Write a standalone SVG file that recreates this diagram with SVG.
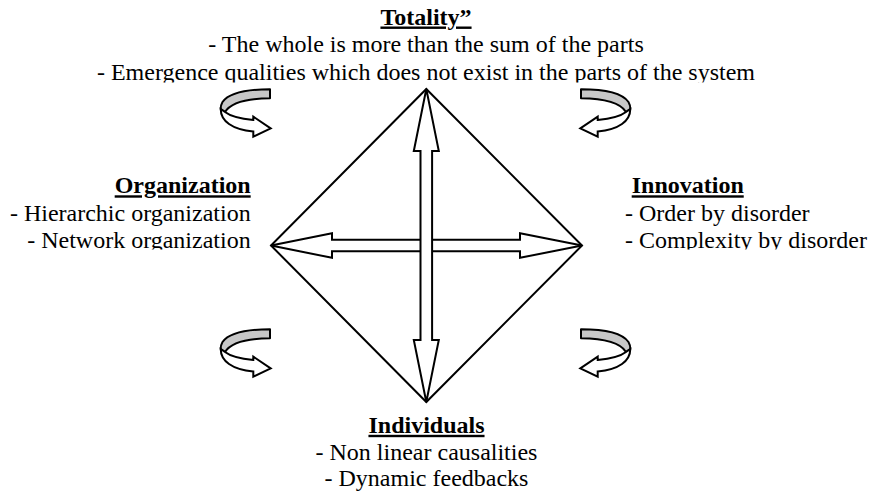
<svg xmlns="http://www.w3.org/2000/svg" xmlns:xlink="http://www.w3.org/1999/xlink" width="871" height="491" viewBox="0 0 871 491">
<style>
  .t { font-family: "Liberation Serif", "Times New Roman", serif; font-size: 24px; fill: #000; }
  .h { font-weight: bold; text-decoration: underline; }
  .ln { fill: none; stroke: #000; stroke-width: 2; stroke-linejoin: miter; }
  .blk { fill: #fff; stroke: #000; stroke-width: 2; stroke-linejoin: miter; }
  .back { fill: #c8c8c8; stroke: #000; stroke-width: 2; stroke-linejoin: round; }
  .front { fill: #fff; stroke: #000; stroke-width: 2; stroke-linejoin: miter; }
</style>
<defs>
  <g id="curl">
    <path class="back" d="M70,9.3 C48,9.3 29,13 22.5,22 C21,24.5 20.7,27 20.7,29 L25,32 C30,24 45,18.5 70,18.3 Z"/>
    <path class="front" d="M20.7,29 C20.7,41 32,49.5 53.3,51.5 L53.3,56.7 L70.7,48.3 L53.3,36.7 L53.3,40 C38,38.5 29.5,35.5 25,32 Z"/>
  </g>
  <clipPath id="clipTop"><rect x="0" y="0" width="871" height="82.5"/></clipPath>
  <clipPath id="clipSide"><rect x="0" y="150" width="871" height="99.5"/></clipPath>
</defs>
<rect width="871" height="491" fill="#fff"/>

<g id="diamond">
  <polygon class="ln" points="426.3,89 582,245.5 426.3,402 271,245.5"/>
</g>

<g id="connectors">
  <polygon class="blk" points="271,245.5 332,233.2 332,239.7 520,239.7 520,233.2 582,245.5 520,257.8 520,251.3 332,251.3 332,257.8"/>
  <polygon class="blk" points="426.3,89 438.8,151 432.1,151 432.1,340 438.8,340 426.3,402 413.8,340 420.5,340 420.5,151 413.8,151"/>
</g>

<g id="cycles">
  <use xlink:href="#curl" transform="translate(200,80)"/>
  <use xlink:href="#curl" transform="translate(200,320)"/>
  <use xlink:href="#curl" transform="translate(651,80) scale(-1,1)"/>
  <use xlink:href="#curl" transform="translate(651,320) scale(-1,1)"/>
</g>

<g id="totality" clip-path="url(#clipTop)">
  <text class="t h" x="426" y="24.5" text-anchor="middle">Totality”</text>
  <text class="t" x="426" y="52" text-anchor="middle">- The whole is more than the sum of the parts</text>
  <text class="t" x="426" y="79.6" text-anchor="middle">- Emergence qualities which does not exist in the parts of the system</text>
</g>

<g id="organization" clip-path="url(#clipSide)">
  <text class="t h" x="250.7" y="193.3" text-anchor="end">Organization</text>
  <text class="t" x="250.7" y="220.8" text-anchor="end">- Hierarchic organization</text>
  <text class="t" x="250.7" y="247.8" text-anchor="end">- Network organization</text>
</g>

<g id="innovation" clip-path="url(#clipSide)">
  <text class="t h" x="631.7" y="193.3">Innovation</text>
  <text class="t" x="625" y="220.8">- Order by disorder</text>
  <text class="t" x="625" y="247.8">- Complexity by disorder</text>
</g>

<g id="individuals">
  <text class="t h" x="426.5" y="432.8" text-anchor="middle">Individuals</text>
  <text class="t" x="426.5" y="460" text-anchor="middle">- Non linear causalities</text>
  <text class="t" x="426.5" y="486" text-anchor="middle">- Dynamic feedbacks</text>
</g>
</svg>
